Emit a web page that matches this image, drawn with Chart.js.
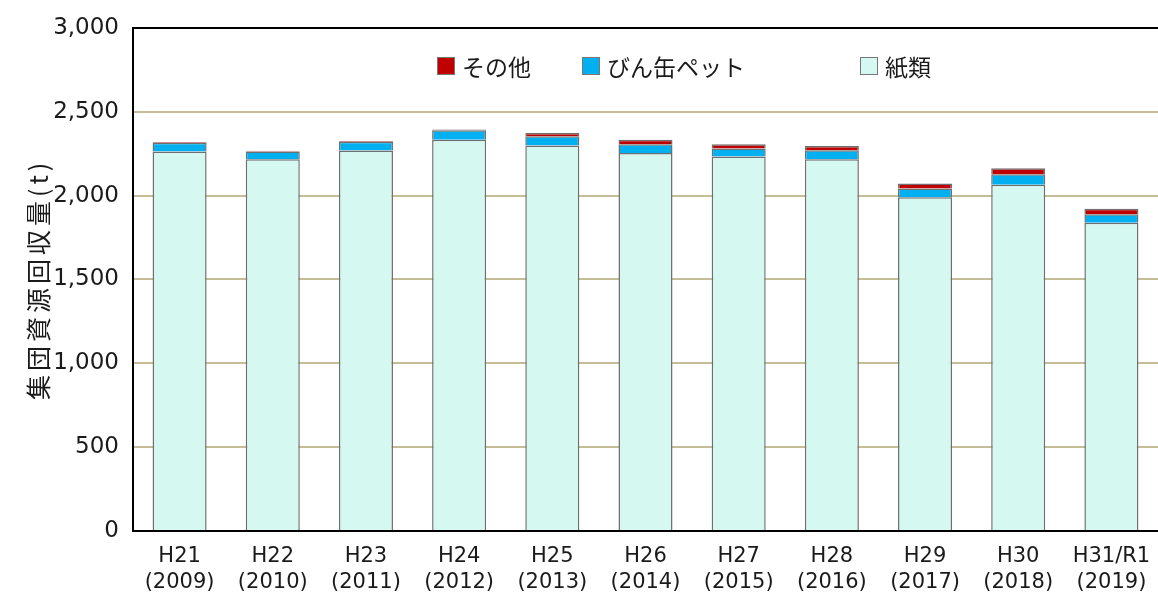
<!DOCTYPE html>
<html><head><meta charset="utf-8">
<script src="https://cdn.jsdelivr.net/npm/chart.js@4.4.0/dist/chart.umd.min.js"></script>
<style>html,body{margin:0;padding:0;background:#fff;}</style>
</head><body>
<canvas id="c" width="1158" height="592"></canvas>
<script>
const eraLabels = ['H21','H22','H23','H24','H25','H26','H27','H28','H29','H30','H31/R1'];
const yearLabels = ['(2009)','(2010)','(2011)','(2012)','(2013)','(2014)','(2015)','(2016)','(2017)','(2018)','(2019)'];
const paper   = [2262, 2216, 2268, 2333, 2299, 2254, 2232, 2216, 1990, 2065, 1837];
const bottles = [  53,   47,   53,   56,   54,   51,   49,   54,   52,   62,   52];
const other   = [   4,    4,    4,    4,   20,   28,   24,   26,   29,   36,   32];
const seriesNames = ['紙類', 'びん缶ペット', 'その他'];
const yTickValues = [0, 500, 1000, 1500, 2000, 2500, 3000];
const yTitle = '集団資源回収量(t)';

const JP = '"Noto Sans CJK JP", sans-serif';
const NUM = '"DejaVu Sans", "Noto Sans CJK JP", sans-serif';
const categories = eraLabels.map((e, i) => [e, yearLabels[i]]);

const LEGEND_X = [437, 582, 860];
const LEGEND_Y = 66;
const customLegend = {
  id: 'customLegend',
  afterDraw(chart) {
    const ctx = chart.ctx;
    const ds = chart.data.datasets;
    const order = [2, 1, 0];
    ctx.save();
    ctx.font = '23px ' + JP;
    ctx.textBaseline = 'middle';
    ctx.textAlign = 'left';
    order.forEach((di, k) => {
      const x = LEGEND_X[k];
      const s = 18;
      ctx.fillStyle = ds[di].backgroundColor;
      ctx.fillRect(x, LEGEND_Y - s / 2, s, s);
      ctx.strokeStyle = '#777';
      ctx.lineWidth = 1;
      ctx.strokeRect(x + 0.5, LEGEND_Y - s / 2 + 0.5, s - 1, s - 1);
      ctx.fillStyle = '#1a1a1a';
      ctx.fillText(ds[di].label, x + s + 7, LEGEND_Y + 1);
    });
    ctx.restore();
  }
};

new Chart(document.getElementById('c'), {
  type: 'bar',
  data: {
    labels: categories,
    datasets: [
      { label: seriesNames[0], data: paper,   backgroundColor: '#D5F8F0', borderColor: '#6f6f6f', borderWidth: 1.5 },
      { label: seriesNames[1], data: bottles, backgroundColor: '#00B0F0', borderColor: '#6f6f6f', borderWidth: 1.5 },
      { label: seriesNames[2], data: other,   backgroundColor: '#C00000', borderColor: '#6f6f6f', borderWidth: 1.5 }
    ]
  },
  options: {
    responsive: false,
    animation: false,
    devicePixelRatio: 1,
    layout: { padding: { top: 27, right: 0, left: 0, bottom: 0 } },
    datasets: { bar: { categoryPercentage: 1, barPercentage: 0.58 } },
    plugins: { legend: { display: false }, tooltip: { enabled: false } },
    scales: {
      x: {
        stacked: true,
        grid: { display: true, color: 'rgba(0,0,0,0)', drawTicks: false },
        border: { color: '#000', width: 2 },
        ticks: { font: { family: NUM, size: 21, lineHeight: 1.25 }, color: '#1a1a1a', padding: 12, maxRotation: 0, autoSkip: false },
        afterFit(s) { s.height = 61; s.paddingLeft = 0; s.paddingRight = 0; }
      },
      y: {
        stacked: true,
        min: 0, max: 3000,
        afterBuildTicks(s) { s.ticks = yTickValues.map(v => ({ value: v })); },
        ticks: {
          font: { family: NUM, size: 23 }, color: '#1a1a1a', padding: 14,
          callback: v => v.toLocaleString('en-US')
        },
        grid: {
          color: c => (c.tick && c.tick.value === 3000) ? '#000' : '#C4BD97',
          lineWidth: 2,
          drawTicks: false
        },
        border: { color: '#000', width: 2 },
        title: { display: true, text: yTitle, font: { family: JP, size: 25 }, color: '#1a1a1a', padding: { top: 23, bottom: 0 } },
        afterFit(s) {
          s.width = 133;
          if (!s._spacedTitle) {
            const orig = s.drawTitle;
            s.drawTitle = function () {
              const ctx = this.ctx;
              ctx.save();
              ctx.letterSpacing = '4px';
              orig.apply(this, arguments);
              ctx.restore();
            };
            s._spacedTitle = true;
          }
        }
      }
    }
  },
  plugins: [customLegend]
});
</script>
</body></html>
